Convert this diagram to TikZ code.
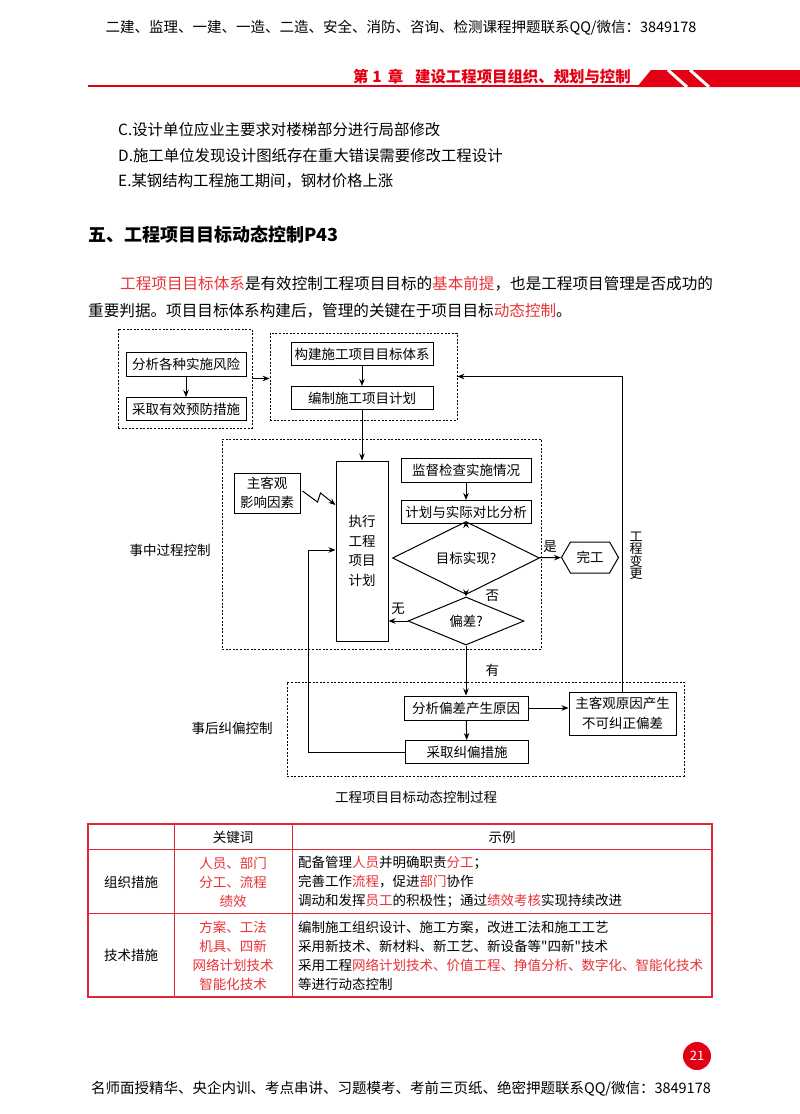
\documentclass[tikz,border=0pt]{standalone}
\usepackage{fontspec}
\setmainfont{Noto Sans CJK SC}[Ligatures=TeXOff]
\usetikzlibrary{arrows.meta, positioning, shapes.geometric, shapes.symbols}

\definecolor{hdred}{RGB}{228,0,20}
\definecolor{txred}{RGB}{232,50,56}
\definecolor{tbred}{RGB}{226,40,52}

\newcommand{\dgfont}{\fontsize{13.5}{19.5}\selectfont}
\newcommand{\rd}[1]{\textcolor{txred}{#1}}

\begin{document}
\begin{tikzpicture}[x=1pt, y=-1pt,
    box/.style={draw, line width=1pt, inner sep=0pt, align=center, font=\dgfont},
    grp/.style={draw, line width=0.8pt, dash pattern=on 2pt off 1.6pt, inner sep=0pt},
    dec/.style={diamond, draw, line width=1pt, inner sep=0pt, font=\dgfont},
    arr/.style={-{Stealth[length=7pt, width=5.5pt]}, line width=1pt},
    lbl/.style={inner sep=0pt, font=\dgfont},
    txt/.style={anchor=west, inner sep=0pt, font=\fontsize{15.4}{18}\selectfont},
    cell/.style={inner sep=0pt, font=\fontsize{13.5}{19}\selectfont},
  ]
  \useasboundingbox[fill=white] (0,0) rectangle (800,1114);

  % page header
  \node[inner sep=0pt, font=\fontsize{14.5}{18}\selectfont] (top) at (401,28) {二建、监理、一建、一造、二造、安全、消防、咨询、检测课程押题联系QQ/微信：3849178};
  \fill[hdred] (88,84.5) rectangle (800,87);
  \fill[hdred] (637,87) -- (651,70) -- (800,70) -- (800,87) -- cycle;
  \draw[white, line width=3pt] (668,70) -- (687,87) (690,70) -- (709,87);
  \node[anchor=east, inner sep=0pt, text=hdred, font=\fontsize{15.4}{18}\selectfont\bfseries] (chap) at (631,77) {第\hspace{4pt}1\hspace{6pt}章\hspace{12pt}建设工程项目组织、规划与控制};

  % text above the figure
  \node[txt] (optc) at (118,130) {C.设计单位应业主要求对楼梯部分进行局部修改};
  \node[txt] (optd) at (118,156) {D.施工单位发现设计图纸存在重大错误需要修改工程设计};
  \node[txt] (opte) at (118,181) {E.某钢结构工程施工期间，钢材价格上涨};
  \node[txt, font=\fontsize{18}{20}\selectfont\bfseries] (sec) at (88,235) {五、工程项目目标动态控制P43};
  \node[txt, font=\fontsize{15.6}{20}\selectfont] (para1) at (120,284) {\rd{工程项目目标体系}是有效控制工程项目目标的\rd{基本前提}，也是工程项目管理是否成功的};
  \node[txt, font=\fontsize{15.6}{20}\selectfont] (para2) at (88,311) {重要判据。项目目标体系构建后，管理的关键在于项目目标\rd{动态控制}。};

  % before: planning
  \node[grp, minimum width=134pt, minimum height=99pt] (pre) at (185,378.5) {};
  \node[box, minimum width=120pt, minimum height=24pt] (risk) at (186,364) {分析各种实施风险};
  \node[box, minimum width=120pt, minimum height=23pt] (prevent) at (186,409) {采取有效预防措施};
  \node[grp, minimum width=187pt, minimum height=87pt] (target) at (363.5,376.5) {};
  \node[box, minimum width=142pt, minimum height=23pt] (build) at (362,354) {构建施工项目目标体系};
  \node[box, minimum width=142pt, minimum height=23pt] (plan) at (362,398) {编制施工项目计划};

  % during: process control
  \node[grp, minimum width=319pt, minimum height=210pt] (during) at (381.5,544) {};
  \node[box, minimum width=52pt, minimum height=180pt] (exec) at (362,551) {执行\\工程\\项目\\计划};
  \node[box, minimum width=66pt, minimum height=40pt] (factor) at (267,493) {主客观\\影响因素};
  \node[box, minimum width=130pt, minimum height=24pt] (check) at (466,470) {监督检查实施情况};
  \node[box, minimum width=130pt, minimum height=23pt] (compare) at (466,512) {计划与实际对比分析};
  \node[dec, minimum width=147pt, minimum height=45pt] (goal) at (466,558) {目标实现?};
  \node[box, signal, signal to=east and west, signal pointer angle=120, minimum width=57pt, minimum height=31pt] (done) at (590,557.5) {完工};
  \node[dec, minimum width=116pt, minimum height=48pt] (dev) at (466,621) {偏差?};

  % after: correction
  \node[grp, minimum width=397pt, minimum height=94pt] (after) at (485.5,729) {};
  \node[box, minimum width=124pt, minimum height=24pt] (analyse) at (466,708) {分析偏差产生原因};
  \node[box, minimum width=107pt, minimum height=43pt] (cause) at (622.5,713.5) {主客观原因产生\\不可纠正偏差};
  \node[box, minimum width=123pt, minimum height=23pt] (correct) at (467,752) {采取纠偏措施};

  \node[lbl, align=center, font=\fontsize{13}{12.5}\selectfont] (chg) at (636,556) {工\\程\\变\\更};
  \node[lbl] (midlbl) at (170,550) {事中过程控制};
  \node[lbl] (postlbl) at (232,728) {事后纠偏控制};
  \node[lbl] (cap) at (416,797) {工程项目目标动态控制过程};

  \draw[arr] (risk) -- (prevent);
  \draw[arr] (pre.east) -- (pre.east -| target.west);
  \draw[arr] (build) -- (plan);
  \draw[arr] (plan) -- (exec);
  \draw[arr] (factor.east) ++(2,-2) -- ++(15,11) -- ++(3,-9) -- ++(15,12);
  \draw[arr] (check) -- (compare);
  \draw[arr] (compare) -- (goal);
  \draw[arr] (goal) -- node[lbl, above=5pt]{是} (done);
  \draw[arr] (goal) -- node[lbl, right=19pt]{否} (dev);
  \draw[arr] (dev) -- node[lbl, above=6pt]{无} (dev.west -| exec.east);
  \draw[arr] (dev) -- node[lbl, right=19pt]{有} (analyse);
  \draw[arr] (analyse) -- (analyse.east -| cause.west);
  \draw[arr] (analyse) -- (correct);
  \coordinate (back) at (308,550);
  \draw[arr] (correct.west) -| (back) -- (back -| exec.west);
  \draw[arr] (cause.north) |- (target.east);

  % table
  \draw[tbred, line width=1.2pt] (88,824) rectangle (712,997);
  \draw[tbred, line width=1pt] (88,849) -- (712,849) (88,913) -- (712,913)
    (174,824) -- (174,997) (292,824) -- (292,997);
  \node[cell] (hkey) at (233,837) {关键词};
  \node[cell] (hex) at (502,837) {示例};
  \node[cell] (org) at (131,882) {组织措施};
  \node[cell, align=center, text=txred] (orgkey) at (233,882) {人员、部门\\分工、流程\\绩效};
  \node[cell, align=left, anchor=west] (orgex) at (298,882) {配备管理\rd{人员}并明确职责\rd{分工}；\\完善工作\rd{流程}，促进\rd{部门}协作\\调动和发挥\rd{员工}的积极性；通过\rd{绩效考核}实现持续改进};
  \node[cell] (tech) at (131,955) {技术措施};
  \node[cell, align=center, text=txred] (techkey) at (233,956) {方案、工法\\机具、四新\\网络计划技术\\智能化技术};
  \node[cell, align=left, anchor=west] (techex) at (298,956) {编制施工组织设计、施工方案，改进工法和施工工艺\\采用新技术、新材料、新工艺、新设备等"四新"技术\\采用工程\rd{网络计划技术、价值工程、挣值分析、数字化、智能化技术}\\等进行动态控制};

  % page footer
  \fill[hdred] (697,1056) circle (14);
  \node[inner sep=0pt, text=white, font=\fontsize{13}{15}\selectfont] (pno) at (697,1056) {21};
  \node[inner sep=0pt, font=\fontsize{14.5}{18}\selectfont] (foot) at (401,1089) {名师面授精华、央企内训、考点串讲、习题模考、考前三页纸、绝密押题联系QQ/微信：3849178};
\end{tikzpicture}
\end{document}
